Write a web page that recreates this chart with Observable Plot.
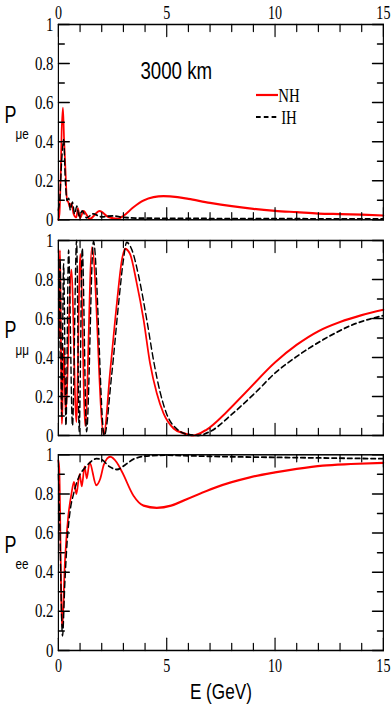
<!DOCTYPE html>
<html><head><meta charset="utf-8">
<script src="https://cdn.jsdelivr.net/npm/d3@7"></script>
<script src="https://cdn.jsdelivr.net/npm/@observablehq/plot@0.6"></script>
<style>
body{margin:0;background:#fff;}
#wrap{position:relative;width:392px;height:708px;overflow:hidden;background:#fff;}
</style></head><body><div id="wrap"></div>
<script>
// ---------- data ----------
const xTicks = [0, 5, 10, 15];
const xMinor = [1, 2, 3, 4, 6, 7, 8, 9, 11, 12, 13, 14];
const yTicks = [0, 0.2, 0.4, 0.6, 0.8, 1];
const yMinor = [0.1, 0.3, 0.5, 0.7, 0.9];
const seriesNames = ["NH", "IH"];
const panelSubs = ["μe", "μμ", "ee"];
const baselineText = "3000 km";
const xTitle = "E (GeV)";

// P(mu->e)
const E_me_NH = [0, 0.05, 0.1, 0.15, 0.21, 0.26, 0.32, 0.4, 0.46, 0.52, 0.6, 0.7, 0.83, 0.9, 1.0, 1.16, 1.45, 1.9, 2.3, 2.75, 3.0, 3.47, 3.93, 4.39, 4.85, 5.5, 6, 7, 8, 9, 10, 11, 12, 13, 14, 15];
const P_me_NH = [0.0, 0.03, 0.2, 0.45, 0.573, 0.42, 0.27, 0.1, 0.09, 0.065, 0.083, 0.03, 0.013, 0.058, 0.01, 0.044, 0.005, 0.045, 0.015, 0.005, 0.02, 0.065, 0.099, 0.116, 0.121, 0.116, 0.107, 0.087, 0.07, 0.056, 0.046, 0.039, 0.032, 0.029, 0.026, 0.022];
const E_me_IH = [0, 0.06, 0.15, 0.245, 0.32, 0.4, 0.48, 0.55, 0.65, 0.75, 0.85, 0.95, 1.1, 1.3, 1.6, 2.0, 2.5, 3, 4, 6, 8, 10, 12, 15];
const P_me_IH = [0.05, 0.1, 0.3, 0.41, 0.2, 0.1, 0.11, 0.05, 0.09, 0.03, 0.07, 0.02, 0.045, 0.01, 0.03, 0.015, 0.02, 0.012, 0.008, 0.007, 0.006, 0.006, 0.005, 0.005];

// P(mu->mu)
const E_mm_NH = [0.03, 0.07, 0.16, 0.25, 0.33, 0.6, 0.83, 1.01, 1.24, 1.55, 2.09, 2.39, 2.7, 2.93, 3.08, 3.31, 3.6, 3.93, 4.23, 4.54, 4.85, 5.31, 5.77, 6.23, 6.84, 7.76, 8.68, 10, 11, 12, 13, 14, 15];
const P_mm_NH = [0.5, 0.95, 0.06, 0.45, 0.12, 0.85, 0.07, 0.93, 0.05, 0.965, 0.005, 0.33, 0.68, 0.9, 0.957, 0.93, 0.79, 0.595, 0.37, 0.217, 0.114, 0.037, 0.012, 0.0, 0.03, 0.12, 0.225, 0.375, 0.465, 0.535, 0.582, 0.617, 0.645];
const E_mm_IH = [0.02, 0.08, 0.15, 0.24, 0.35, 0.47, 0.65, 0.84, 0.96, 1.1, 1.3, 1.62, 2.12, 2.45, 2.8, 3.0, 3.15, 3.4, 3.7, 4.1, 4.4, 4.7, 5.0, 5.5, 6.0, 6.45, 7.0, 8.07, 9.14, 10, 11, 12.2, 13.75, 15];
const P_mm_IH = [0.4, 0.9, 0.1, 0.88, 0.05, 0.95, 0.05, 1.0, 0.02, 0.96, 0.02, 0.995, 0.0, 0.3, 0.7, 0.9, 0.99, 0.95, 0.82, 0.58, 0.38, 0.22, 0.11, 0.03, 0.005, 0.0, 0.02, 0.115, 0.225, 0.32, 0.405, 0.49, 0.575, 0.615];

// P(e->e)
const E_ee_NH = [0.0, 0.04, 0.17, 0.3, 0.45, 0.6, 0.72, 0.83, 0.98, 1.08, 1.21, 1.31, 1.44, 1.75, 1.93, 2.1, 2.39, 2.7, 2.95, 3.47, 3.93, 4.54, 5.2, 5.77, 6.5, 7.3, 8.0, 8.84, 10, 11, 12.2, 13.5, 15];
const P_ee_NH = [0.97, 0.93, 0.12, 0.45, 0.68, 0.8, 0.86, 0.8, 0.9, 0.84, 0.94, 0.88, 0.96, 0.845, 0.877, 0.95, 0.99, 0.96, 0.91, 0.79, 0.74, 0.729, 0.74, 0.766, 0.8, 0.835, 0.86, 0.885, 0.91, 0.928, 0.945, 0.953, 0.959];
const E_ee_IH = [0.0, 0.05, 0.19, 0.3, 0.4, 0.55, 0.7, 0.85, 1.0, 1.2, 1.45, 1.75, 2.0, 2.35, 2.7, 3.1, 3.5, 4.2, 5, 6, 8, 10, 12, 15];
const P_ee_IH = [0.9, 0.7, 0.075, 0.35, 0.55, 0.72, 0.8, 0.86, 0.9, 0.93, 0.96, 0.98, 0.975, 0.94, 0.925, 0.95, 0.98, 0.995, 0.998, 0.995, 0.99, 0.987, 0.984, 0.98];

// ---------- styling / layout ----------
const SX = 0.78;               // horizontal condensation of the original figure
const W = 392 / SX;
const ML = 58 / SX, MR = 9 / SX;
const SERIF = "Liberation Serif, Times New Roman, serif";
const SANS = "Liberation Sans, Arial, sans-serif";
const NH_COLOR = "#ff0000";
const IH_DASH = "6,4";
const TICK_COLOR = "#000";
const fmt = d => String(d);
const rows = (E, P) => E.map((e, i) => ({E: e, P: P[i]}));

// inward tick segments on all four sides, built from the tick arrays
const X_MAJ = 0.062, X_MIN = 0.036, Y_MAJ = 0.506, Y_MIN = 0.276;
const tickSegs = [];
let segId = 0;
for (const [list, L] of [[xTicks, X_MAJ], [xMinor, X_MIN]]) {
  for (const v of list) {
    tickSegs.push({id: segId, x: v, y: 0}, {id: segId, x: v, y: L}); segId++;
    tickSegs.push({id: segId, x: v, y: 1 - L}, {id: segId, x: v, y: 1}); segId++;
  }
}
for (const [list, L] of [[yTicks, Y_MAJ], [yMinor, Y_MIN]]) {
  for (const v of list) {
    tickSegs.push({id: segId, x: 0, y: v}, {id: segId, x: L, y: v}); segId++;
    tickSegs.push({id: segId, x: 15 - L, y: v}, {id: segId, x: 15, y: v}); segId++;
  }
}

const wrap = document.getElementById("wrap");

function panel({top, height, mt, mb, nh, ih, sub, axis}) {
  const marks = [
    Plot.line(rows(...nh), {x: "E", y: "P", stroke: NH_COLOR, strokeWidth: 2.2, curve: "monotone-x"}),
    Plot.line(rows(...ih), {x: "E", y: "P", stroke: "#000", strokeWidth: 1.8, strokeDasharray: IH_DASH, curve: "monotone-x"}),
    Plot.frame({stroke: "#000", strokeWidth: 1.5}),
    Plot.axisY(yTicks, {tickSize: 0, tickPadding: 5 / SX, fontFamily: SERIF, fontSize: 19, tickFormat: fmt, label: null}),
    Plot.text(["P"], {text: d => d, frameAnchor: "left", lineAnchor: "middle", dx: (4 - 58) / SX, dy: -7, textAnchor: "start", fontFamily: SANS, fontSize: 23, fill: "#000"}),
    Plot.text([sub], {text: d => d, frameAnchor: "left", lineAnchor: "middle", dx: (15 - 58) / SX, dy: 12, textAnchor: "start", fontFamily: SANS, fontSize: 15, fill: "#000"})
  ];
  if (axis === "top") {
    marks.push(Plot.axisX(xTicks, {anchor: "top", tickSize: 0, tickPadding: 5, fontFamily: SERIF, fontSize: 18, tickFormat: fmt, label: null}));
    marks.push(Plot.text([baselineText], {text: d => d, frameAnchor: "top-left", lineAnchor: "middle", dx: (140 - 58) / SX, dy: 47, textAnchor: "start", fontFamily: SANS, fontSize: 24, fill: "#000"}));
  }
  if (axis === "bottom") {
    marks.push(Plot.axisX(xTicks, {anchor: "bottom", tickSize: 0, tickPadding: 9, fontFamily: SERIF, fontSize: 18, tickFormat: fmt, label: null}));
    marks.push(Plot.text([xTitle], {text: d => d, frameAnchor: "bottom", lineAnchor: "middle", dy: 41, fontFamily: SANS, fontSize: 22, fill: "#000"}));
  }
  // tick segments last so nothing covers them
  marks.push(Plot.line(tickSegs, {x: "x", y: "y", z: "id", stroke: TICK_COLOR, strokeWidth: 1.5}));
  const svg = Plot.plot({
    width: W, height,
    marginLeft: ML, marginRight: MR, marginTop: mt, marginBottom: mb,
    x: {domain: [0, 15], axis: axis ? undefined : null},
    y: {domain: [0, 1]},
    style: {background: "transparent", overflow: "visible", maxWidth: "none"},
    marks
  });
  svg.style.position = "absolute";
  svg.style.left = "0px";
  svg.style.top = top + "px";
  svg.style.transform = `scaleX(${SX})`;
  svg.style.transformOrigin = "0 0";
  wrap.appendChild(svg);
  return svg;
}

const p1 = panel({top: 0, height: 221, mt: 24, mb: 1.7, nh: [E_me_NH, P_me_NH], ih: [E_me_IH, P_me_IH], sub: panelSubs[0], axis: "top"});
panel({top: 236, height: 200, mt: 4, mb: 1, nh: [E_mm_NH, P_mm_NH], ih: [E_mm_IH, P_mm_IH], sub: panelSubs[1], axis: null});
panel({top: 450, height: 258, mt: 4.3, mb: 58, nh: [E_ee_NH, P_ee_NH], ih: [E_ee_IH, P_ee_IH], sub: panelSubs[2], axis: "bottom"});

// legend (layout only) inside the top panel
const lg = d3.select(p1).append("g");
const legendItems = [
  {name: seriesNames[0], y: 95, stroke: NH_COLOR, dash: null, w: 2.2},
  {name: seriesNames[1], y: 117, stroke: "#000", dash: IH_DASH, w: 1.8}
];
for (const it of legendItems) {
  lg.append("line").attr("x1", 256 / SX).attr("x2", 278 / SX).attr("y1", it.y).attr("y2", it.y)
    .attr("stroke", it.stroke).attr("stroke-width", it.w).attr("stroke-dasharray", it.dash);
  lg.append("text").attr("x", 289 / SX).attr("y", it.y).attr("dy", "0.35em")
    .attr("font-family", SERIF).attr("font-size", 19).attr("fill", "#000").text(it.name);
}
</script></body></html>
